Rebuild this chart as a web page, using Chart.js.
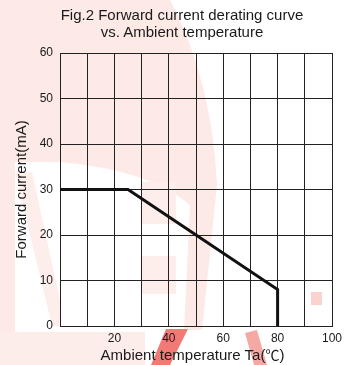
<!DOCTYPE html>
<html>
<head>
<meta charset="utf-8">
<script src="https://cdn.jsdelivr.net/npm/chart.js@4"></script>
<style>
  html, body { margin: 0; padding: 0; background: #fff; }
  #wrap { position: relative; width: 349px; height: 365px; overflow: hidden; }
  #wrap svg, #wrap canvas { position: absolute; left: 0; top: 0; }
  .lbl {
    position: absolute; text-align: center; white-space: nowrap;
    font-family: 'Liberation Sans', Arial, sans-serif; color: #1a1a1a;
  }
  #title { left: 0; top: 6px; width: 364px; font-size: 15px; line-height: 17px; }
  #xtitle { left: 0; top: 345px; width: 385px; font-size: 15px; line-height: 18px; }
  #xtitle span { font-family: 'Noto Sans CJK JP', 'Noto Sans CJK SC', sans-serif; font-size: 14px; }
</style>
</head>
<body>
<div id="wrap">
  <!-- faint background watermark, roughly traced -->
  <svg width="349" height="365">
    <path d="M0,0 L170,0 Q212,80 217,185 L202,330 L184,330 L190,205 Q150,170 60,162 L15,162 L15,340 L0,340 Z" fill="#fde9e6"/>
    <path d="M15,172 L32,172 L60,300 L60,326 L52,326 Z" fill="#fdeeeb"/>
    <rect x="142" y="182" width="34" height="42" fill="#fdeeeb"/>
    <rect x="142" y="256" width="34" height="38" fill="#fdeeeb"/>
    <rect x="0" y="332" width="145" height="33" fill="#fdedea"/>
    <path d="M166,329 L188,329 L170,365 L151,365 Z" fill="#f07a74"/>
    <path d="M245,333 L257,330 L267,365 L254,365 Z" fill="#f5a9a4"/>
    <rect x="311" y="292" width="11" height="13" fill="#fad3cf"/>
  </svg>
  <canvas id="chart" width="349" height="365"></canvas>
  <div id="title" class="lbl">Fig.2 Forward current derating curve<br>vs. Ambient temperature</div>
  <div id="xtitle" class="lbl">Ambient temperature Ta(<span>℃</span>)</div>
</div>
<script>
// derating curve points
const temps = [0, 25, 80, 80];
const currents = [30, 30, 8, 0];
const xTickLabels = [20, 40, 60, 80, 100];
const yTicks = [0, 10, 20, 30, 40, 50, 60];

const points = temps.map((t, i) => ({ x: t, y: currents[i] }));
const font = "'Liberation Sans', Arial, sans-serif";
const textColor = "#1a1a1a";

new Chart(document.getElementById("chart"), {
  type: "line",
  data: {
    datasets: [{
      data: points,
      borderColor: "#111",
      borderWidth: 3,
      pointRadius: 0,
      tension: 0,
      fill: false
    }]
  },
  options: {
    responsive: false,
    animation: false,
    layout: { padding: { left: 0, right: 17, top: 53, bottom: 0 } },
    plugins: {
      legend: { display: false },
      tooltip: { enabled: false }
    },
    scales: {
      x: {
        type: "linear",
        min: 0,
        max: 100,
        afterBuildTicks: function (scale) {
          scale.ticks = [];
          for (let v = 0; v <= 100; v += 10) scale.ticks.push({ value: v });
        },
        afterFit: function (scale) { scale.height = 39; },
        ticks: {
          color: textColor,
          font: { family: font, size: 12 },
          padding: 5,
          maxRotation: 0,
          autoSkip: false,
          callback: function (v) { return xTickLabels.includes(v) ? String(v) : ""; }
        },
        grid: { color: "#222", lineWidth: 1, drawTicks: false },
        border: { color: "#222" }
      },
      y: {
        type: "linear",
        min: 0,
        max: 60,
        afterBuildTicks: function (scale) {
          scale.ticks = yTicks.map(v => ({ value: v }));
        },
        afterFit: function (scale) { scale.width = 60; },
        ticks: {
          color: textColor,
          font: { family: font, size: 12 },
          padding: 7
        },
        grid: { color: "#222", lineWidth: 1, drawTicks: false },
        border: { color: "#222" },
        title: {
          display: true,
          text: "Forward current(mA)",
          color: textColor,
          font: { family: font, size: 15 },
          padding: { top: 13, bottom: 0 }
        }
      }
    }
  }
});
</script>
</body>
</html>
